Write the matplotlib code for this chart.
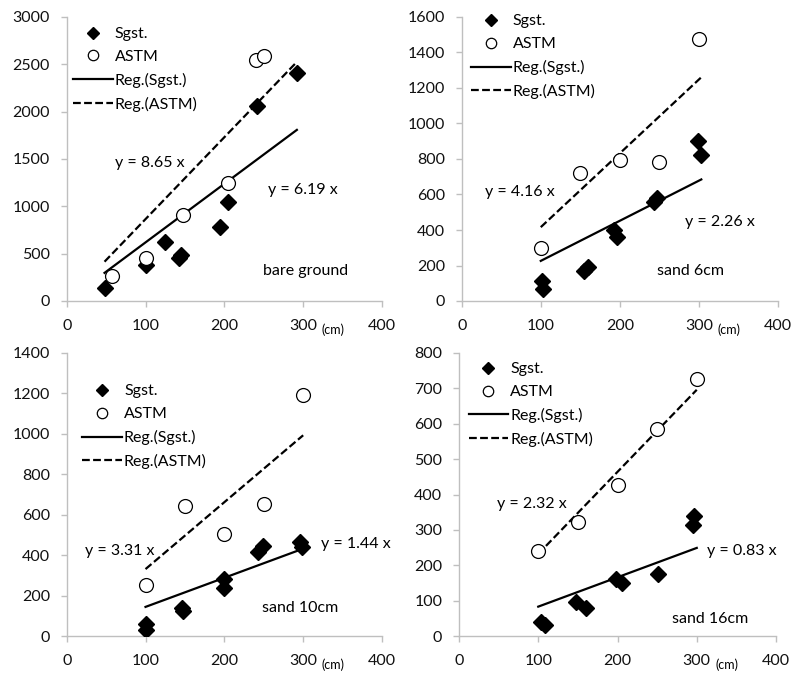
import matplotlib.pyplot as plt
import numpy as np

plt.rcParams['font.family'] = ['Lato', 'DejaVu Sans']

# bare ground
bare_sgst_x = [48, 100, 125, 142, 145, 195, 205, 241, 292]
bare_sgst_y = [140, 380, 625, 450, 490, 780, 1050, 2060, 2410]
bare_astm_x = [58, 100, 148, 205, 240, 250]
bare_astm_y = [265, 450, 910, 1250, 2550, 2585]
bare_k = (6.19, 8.65)

# sand 6cm
s6_sgst_x = [101, 103, 155, 160, 192, 197, 243, 247, 299, 303]
s6_sgst_y = [110, 70, 170, 190, 400, 360, 555, 580, 900, 825]
s6_astm_x = [100, 150, 200, 250, 300]
s6_astm_y = [300, 720, 795, 785, 1478]
s6_k = (2.26, 4.16)

# sand 10cm
s10_sgst_x = [100, 100, 146, 147, 200, 200, 243, 249, 296, 298]
s10_sgst_y = [60, 28, 140, 125, 280, 235, 418, 446, 467, 440]
s10_astm_x = [100, 150, 200, 250, 300]
s10_astm_y = [250, 645, 503, 655, 1190]
s10_k = (1.44, 3.31)

# sand 16cm
s16_sgst_x = [104, 108, 148, 160, 198, 206, 251, 297, 295]
s16_sgst_y = [40, 32, 95, 80, 160, 150, 175, 340, 315]
s16_astm_x = [100, 150, 200, 250, 300]
s16_astm_y = [240, 322, 428, 586, 726]
s16_k = (0.83, 2.32)

panels = [
    dict(sx=bare_sgst_x, sy=bare_sgst_y, ax_=bare_astm_x, ay=bare_astm_y, k=bare_k,
         ymax=3000, ystep=500, name='bare ground', name_xy=(303, 317),
         eq_s=(300, 1171), eq_a=(106, 1460), leg=(0.02, 0.965),
         rect=[66.7, 17, 382, 301]),
    dict(sx=s6_sgst_x, sy=s6_sgst_y, ax_=s6_astm_x, ay=s6_astm_y, k=s6_k,
         ymax=1600, ystep=200, name='sand 6cm', name_xy=(289, 169),
         eq_s=(326, 445), eq_a=(73, 613), leg=(0.03, 1.01),
         rect=[461.7, 17, 778, 301]),
    dict(sx=s10_sgst_x, sy=s10_sgst_y, ax_=s10_astm_x, ay=s10_astm_y, k=s10_k,
         ymax=1400, ystep=200, name='sand 10cm', name_xy=(296, 137),
         eq_s=(367, 456), eq_a=(67, 421), leg=(0.05, 0.89),
         rect=[66.7, 353, 382, 636]),
    dict(sx=s16_sgst_x, sy=s16_sgst_y, ax_=s16_astm_x, ay=s16_astm_y, k=s16_k,
         ymax=800, ystep=100, name='sand 16cm', name_xy=(317, 47),
         eq_s=(357, 239), eq_a=(92, 373), leg=(0.03, 0.968),
         rect=[459, 353, 776, 636]),
]

W, H = 791, 673
fig = plt.figure(figsize=(W / 100, H / 100), dpi=100)
axis_col = '#bfbfbf'
fs = 11.5

for p in panels:
    l, t, r, b = p['rect']
    ax = fig.add_axes([l / W, 1 - b / H, (r - l) / W, (b - t) / H])
    xall = np.array(p['sx'] + p['ax_'])
    xl = np.array([xall.min(), xall.max()])
    ax.plot(p['sx'], p['sy'], 'D', color='black', ms=7.8, zorder=3, label='Sgst.')
    ax.plot(p['ax_'], p['ay'], 'o', mfc='white', mec='black', mew=0.9, ms=10,
            zorder=4, label='ASTM')
    ax.plot(xl, p['k'][0] * xl, '-', color='black', lw=1.6, zorder=2, label='Reg.(Sgst.)')
    ax.plot(xl, p['k'][1] * xl, color='black', lw=1.6, ls=(0, (3.5, 1.5)), zorder=2,
            label='Reg.(ASTM)')

    ax.set_xlim(0, 400)
    ax.set_ylim(0, p['ymax'])
    ax.set_xticks(np.arange(0, 401, 100))
    ax.set_yticks(np.arange(0, p['ymax'] + 1, p['ystep']))
    for s in ['top', 'right']:
        ax.spines[s].set_visible(False)
    for s in ['left', 'bottom']:
        ax.spines[s].set_color(axis_col)
        ax.spines[s].set_linewidth(1)
    ax.tick_params(length=4, width=1, color=axis_col, labelsize=fs, labelcolor='#111111')
    ax.tick_params(axis='y', pad=8)
    ax.tick_params(axis='x', pad=9)

    ax.text(*p['eq_s'], 'y = %.2f x' % p['k'][0], fontsize=fs, ha='center', va='center')
    ax.text(*p['eq_a'], 'y = %.2f x' % p['k'][1], fontsize=fs, ha='center', va='center')
    ax.text(*p['name_xy'], p['name'], fontsize=fs, ha='center', va='center')
    ax.text(0.845, -0.1, '(cm)', transform=ax.transAxes, fontsize=9,
            ha='center', va='center')

    ax.legend(loc='upper left', bbox_to_anchor=p['leg'], frameon=False, fontsize=fs,
              borderpad=0, borderaxespad=0, handlelength=2.5, handletextpad=0.1,
              labelspacing=0.55, markerscale=0.75)

fig.savefig('out.png', dpi=100)
